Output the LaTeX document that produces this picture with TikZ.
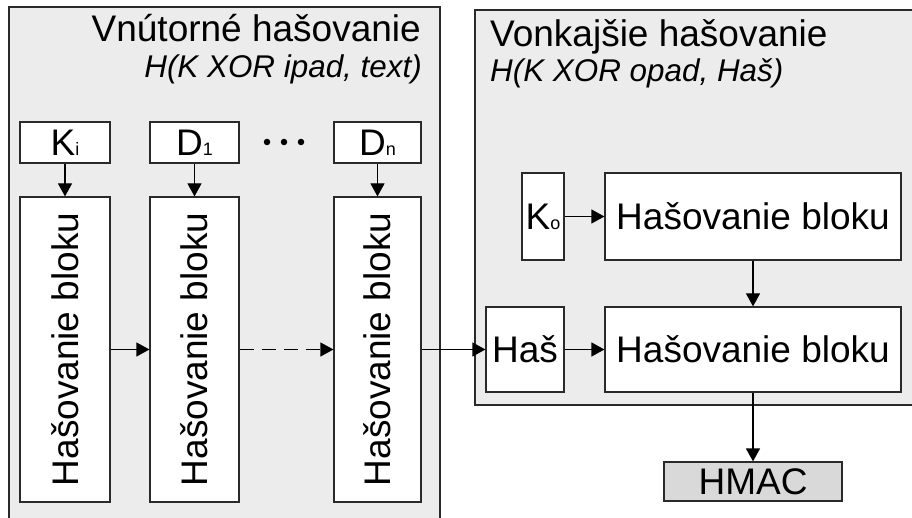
\documentclass[tikz,border=0pt]{standalone}
\usepackage{fontspec}
\setmainfont{Liberation Sans}
\usetikzlibrary{arrows.meta}
\definecolor{panelgray}{HTML}{ECECEC}
\definecolor{resultgray}{HTML}{D9D9D9}
\definecolor{edgegray}{HTML}{2A2A2A}
\newcommand{\bigtxt}{\fontsize{37}{41}\selectfont}
\newcommand{\subtxt}{\fontsize{31.4}{35}\selectfont\itshape}
\newcommand{\idx}[1]{{\fontsize{18}{20}\selectfont #1}}
\tikzset{
  panel/.style={draw=edgegray, line width=1.2pt, fill=panelgray},
  box/.style={draw=edgegray, line width=1.2pt, fill=white, inner sep=0pt,
              font=\bigtxt, anchor=center},
  result/.style={box, fill=resultgray},
  flow/.style={draw=black, line width=1.2pt,
               -{Triangle[length=13pt,width=14pt]}},
  title/.style={font=\bigtxt, inner sep=0pt},
  formula/.style={font=\subtxt, inner sep=0pt},
  dot/.style={circle, fill=black, inner sep=0pt, minimum size=6.5pt}
}
\begin{document}
\begin{tikzpicture}[x=1pt,y=-1pt]
\useasboundingbox (0,0) rectangle (912,518);
\begin{scope}
\clip (0,0) rectangle (912,518);
% inner and outer hashing panels
\draw[panel] (9,7) rectangle (440,530);
\draw[panel] (475,10) rectangle (930,405);
\end{scope}

% panel headings
\node[title, anchor=base east] (tin) at (421,42) {Vnútorné hašovanie};
\node[formula, anchor=base east] (fin) at (422,78) {H(K XOR ipad, text)};
\node[title, anchor=base west] (tout) at (490,47) {Vonkajšie hašovanie};
\node[formula, anchor=base west] (fout) at (490,82) {H(K XOR opad, Haš)};

% inner hash: key and data blocks
\node[box, minimum width=90pt, minimum height=41pt] (ki) at (65,142.5) {K\idx{i}};
\node[box, minimum width=89pt, minimum height=41pt] (d1) at (194.5,142.5) {D\idx{1}};
\node[box, minimum width=87pt, minimum height=41pt] (dn) at (377.5,142.5) {D\idx{n}};
\node[dot] (dot1) at (267,142) {};
\node[dot] (dot2) at (284,142) {};
\node[dot] (dot3) at (301,142) {};

% inner hash: compression steps
\node[box, minimum width=90pt, minimum height=305pt] (b1) at (65,349.5)
  {\rotatebox{90}{Hašovanie bloku}};
\node[box, minimum width=89pt, minimum height=305pt] (b2) at (194.5,349.5)
  {\rotatebox{90}{Hašovanie bloku}};
\node[box, minimum width=87pt, minimum height=305pt] (bn) at (377.5,349.5)
  {\rotatebox{90}{Hašovanie bloku}};

% outer hash
\node[box, minimum width=42pt, minimum height=87pt] (ko) at (543,216.5) {K\idx{o}};
\node[box, minimum width=296pt, minimum height=87pt] (ob1) at (753,216.5) {Hašovanie bloku};
\node[box, minimum width=78pt, minimum height=85pt] (has) at (525,349.5) {Haš};
\node[box, minimum width=296pt, minimum height=85pt] (ob2) at (753,349.5) {Hašovanie bloku};
\node[result, minimum width=178pt, minimum height=39pt] (hmac) at (753,481.5) {HMAC};

% connectors
\draw[flow] (ki) -- (b1);
\draw[flow] (d1) -- (b2);
\draw[flow] (dn) -- (bn);
\draw[flow] (b1) -- (b2);
\draw[flow, dash pattern=on 14pt off 8pt] (b2) -- (bn);
\draw[flow] (bn.east) -- (has.west);
\draw[flow] (ko) -- (ob1);
\draw[flow] (has) -- (ob2);
\draw[flow] (ob1) -- (ob2);
\draw[flow] (ob2) -- (hmac);
\end{tikzpicture}
\end{document}
